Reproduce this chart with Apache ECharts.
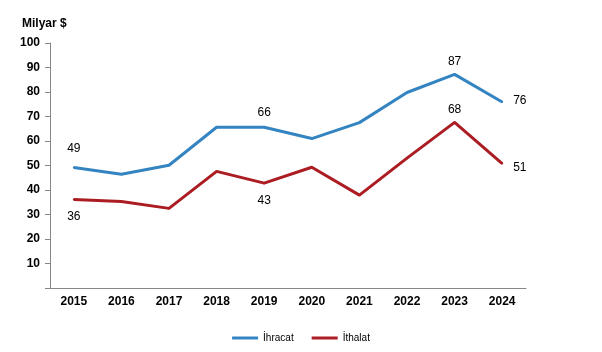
<!DOCTYPE html>
<html>
<head>
<meta charset="utf-8">
<script src="https://cdn.jsdelivr.net/npm/echarts@6/dist/echarts.min.js"></script>
<style>
  html, body { margin: 0; padding: 0; background: #fff; }
  #chart { width: 602px; height: 352px; }
</style>
</head>
<body>
<div id="chart"></div>
<script>
const years = ['2015', '2016', '2017', '2018', '2019', '2020', '2021', '2022', '2023', '2024'];
const ihracat = [49.2, 46.4, 50.1, 65.6, 65.6, 61.0, 67.5, 79.8, 87.2, 75.9];
const ithalat = [36.1, 35.3, 32.5, 47.6, 42.8, 49.3, 37.9, 53.0, 67.6, 50.8];

// labelled points: index -> [position, distance, y offset]
const ihracatLabels = { 0: ['top', 12, 0], 4: ['top', 8, 0], 8: ['top', 6, 0], 9: ['right', 10, -1] };
const ithalatLabels = { 0: ['bottom', 10, 0], 4: ['bottom', 11, 0], 8: ['top', 6, 0], 9: ['right', 10, 4] };

const font = 'Liberation Sans, Arial, sans-serif';

function withLabels(values, labels) {
  return values.map(function (v, i) {
    const cfg = labels[i];
    if (!cfg) return v;
    return {
      value: v,
      label: {
        show: true,
        position: cfg[0],
        distance: cfg[1],
        offset: [0, cfg[2]],
        formatter: function (p) { return Math.round(p.value); },
        color: '#000',
        fontSize: 12,
        fontFamily: font
      }
    };
  });
}

const chart = echarts.init(document.getElementById('chart'));
chart.setOption({
  animation: false,
  backgroundColor: '#fff',
  title: {
    text: 'Milyar $',
    left: 17,
    top: 13,
    textStyle: { fontSize: 12, fontWeight: 'bold', color: '#000', fontFamily: font }
  },
  grid: { left: 50, right: 76, top: 43, bottom: 64, containLabel: false },
  legend: {
    bottom: 4,
    left: 'center',
    itemWidth: 26,
    itemHeight: 3,
    itemGap: 18,
    icon: 'rect',
    textStyle: { fontSize: 10, color: '#000', fontFamily: font },
    data: ['İhracat', 'İthalat']
  },
  xAxis: {
    type: 'category',
    data: years,
    boundaryGap: true,
    axisLine: { lineStyle: { color: '#868686', width: 1 } },
    axisTick: { alignWithLabel: true, length: 4, lineStyle: { color: '#868686' } },
    axisLabel: { fontSize: 12, fontWeight: 'bold', color: '#000', margin: 8, fontFamily: font }
  },
  yAxis: {
    type: 'value',
    min: 0,
    max: 100,
    interval: 10,
    splitLine: { show: false },
    axisLine: { show: true, lineStyle: { color: '#868686', width: 1 } },
    axisTick: { show: true, length: 5, lineStyle: { color: '#868686' } },
    axisLabel: {
      fontSize: 12, fontWeight: 'bold', color: '#000', margin: 10, fontFamily: font,
      formatter: function (v) { return v === 0 ? '' : v; }
    }
  },
  series: [
    {
      name: 'İhracat',
      type: 'line',
      data: withLabels(ihracat, ihracatLabels),
      symbol: 'circle',
      symbolSize: 2,
      showSymbol: true,
      color: '#3584c2',
      itemStyle: { color: '#3584c2' },
      lineStyle: { width: 3, color: '#3584c2' }
    },
    {
      name: 'İthalat',
      type: 'line',
      data: withLabels(ithalat, ithalatLabels),
      symbol: 'circle',
      symbolSize: 2,
      showSymbol: true,
      color: '#ab1d22',
      itemStyle: { color: '#ab1d22' },
      lineStyle: { width: 3, color: '#ab1d22' }
    }
  ]
});
</script>
</body>
</html>
